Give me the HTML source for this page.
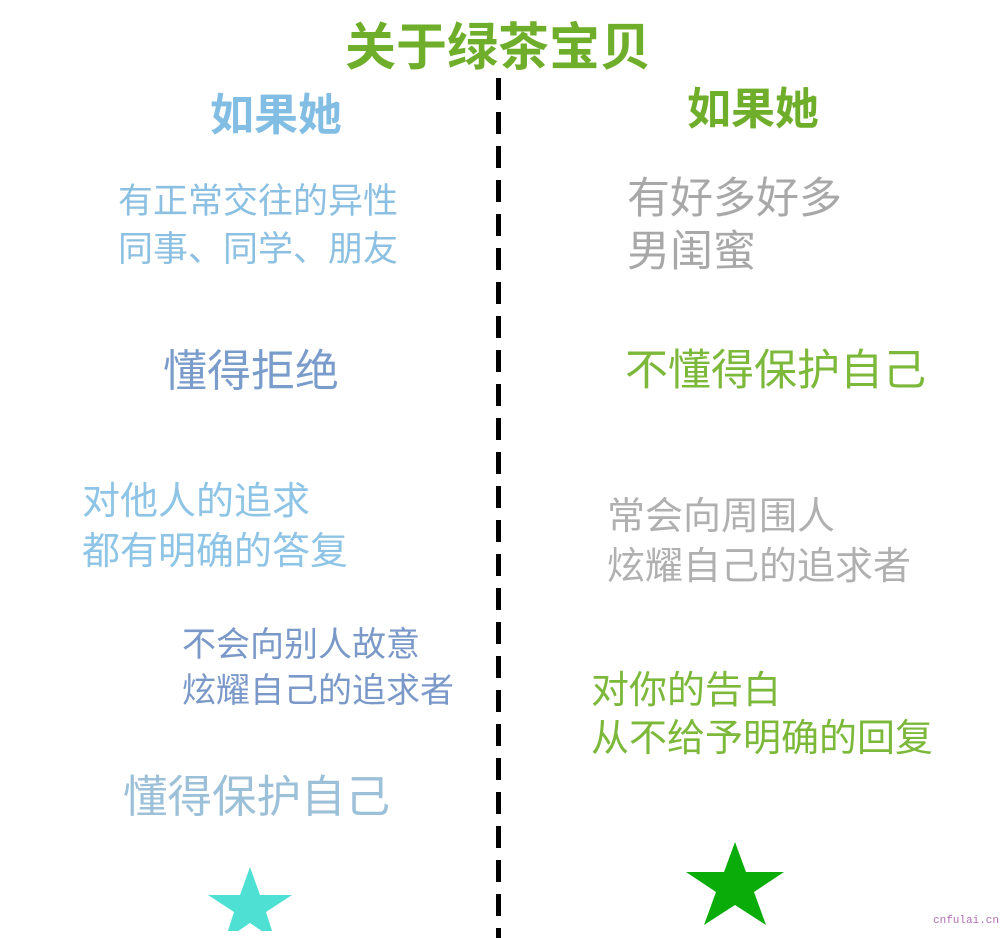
<!DOCTYPE html>
<html><head><meta charset="utf-8"><style>
body{margin:0;width:1000px;height:931px;background:#fff;position:relative;overflow:hidden;font-family:"Liberation Sans","Noto Sans CJK SC",sans-serif;}
.t{position:absolute;white-space:nowrap;line-height:1;}
.b{font-weight:bold;}
</style></head><body>
<div class="t b" style="left:345px;top:22px;font-size:51px;color:#6fae2a;">关于绿茶宝贝</div>
<div class="t b" style="left:210px;top:94px;font-size:44px;color:#82bde4;">如果她</div>
<div class="t b" style="left:687px;top:88px;font-size:44px;color:#6fae2a;">如果她</div>

<div style="position:absolute;left:496px;top:78px;width:5px;height:860px;background:repeating-linear-gradient(to bottom,#000 0 22px,transparent 22px 34px);"></div>

<div class="t" style="left:118px;top:178px;font-size:35px;color:#8cc0e2;line-height:48px;">有正常交往的异性<br>同事、同学、朋友</div>
<div class="t" style="left:163px;top:350px;font-size:44px;color:#7a9ccb;">懂得拒绝</div>
<div class="t" style="left:82px;top:477px;font-size:38px;color:#8ec4e6;line-height:50px;">对他人的追求<br>都有明确的答复</div>
<div class="t" style="left:182px;top:622px;font-size:34px;color:#7a98c8;line-height:46px;">不会向别人故意<br>炫耀自己的追求者</div>
<div class="t" style="left:123px;top:776px;font-size:44.5px;color:#9cc0d8;">懂得保护自己</div>

<div class="t" style="left:627px;top:173px;font-size:43px;color:#a8a8a8;line-height:53px;">有好多好多<br>男闺蜜</div>
<div class="t" style="left:625px;top:350px;font-size:43px;color:#7cb83a;">不懂得保护自己</div>
<div class="t" style="left:607px;top:492px;font-size:38px;color:#b0b0b0;line-height:50px;">常会向周围人<br>炫耀自己的追求者</div>
<div class="t" style="left:591px;top:667px;font-size:38px;color:#7cb83a;line-height:48px;">对你的告白<br>从不给予明确的回复</div>

<svg style="position:absolute;left:0;top:0" width="1000" height="931">
<polygon points="250,867 260,895 292,895 266,912 275,940 250,923 225,940 234,912 208,895 240,895" fill="#4fe0d4"/>
<polygon points="735,842 746,872 784,872 754,892 766,925 735,905 704,925 716,892 686,872 724,872" fill="#0aac0a"/>
</svg>
<div class="t" style="left:933px;top:916px;font-size:11px;color:#b070b0;font-family:'Liberation Mono',monospace;">cnfulai.cn</div>
</body></html>
